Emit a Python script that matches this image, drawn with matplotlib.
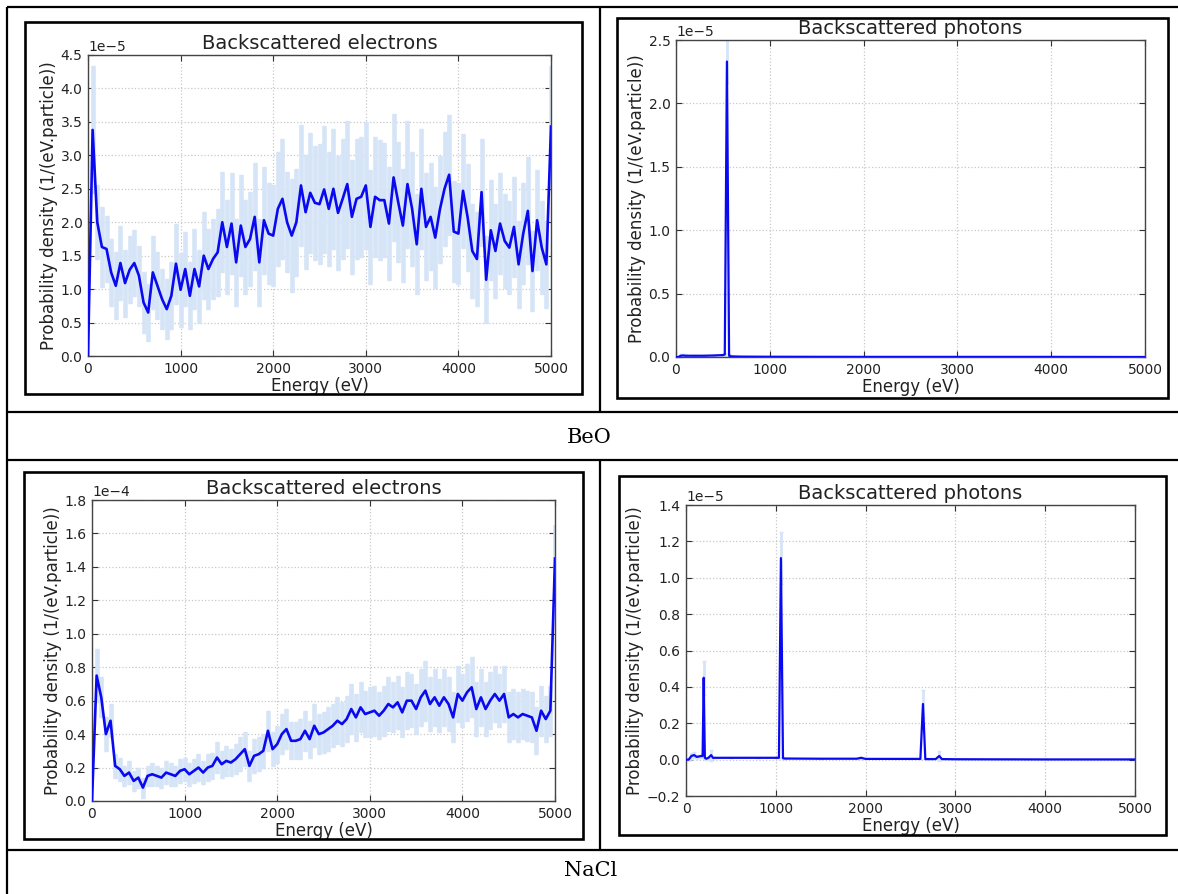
import numpy as np
import matplotlib
matplotlib.use("Agg")
import matplotlib.pyplot as plt
from matplotlib.lines import Line2D
from matplotlib.patches import Rectangle

W, H = 1178, 894

# ---------------- data ----------------
energy_grid = np.arange(0, 5001, 50)  # eV bins

# BeO backscattered electrons (units 1e-5)
beo_electrons = [
    0.0, 3.38, 2.0, 1.63, 1.6, 1.25, 1.05, 1.39, 1.09, 1.29,
    1.39, 1.2, 0.8, 0.65, 1.25, 1.05, 0.85, 0.7, 0.9, 1.38,
    0.99, 1.3, 0.9, 1.3, 1.04, 1.5, 1.3, 1.45, 1.55, 2.0,
    1.63, 1.98, 1.4, 1.95, 1.63, 1.75, 2.08, 1.4, 2.03, 1.83,
    1.8, 2.2, 2.35, 2.0, 1.8, 2.0, 2.55, 2.15, 2.44, 2.29,
    2.27, 2.49, 2.2, 2.5, 2.14, 2.35, 2.57, 2.08, 2.35, 2.38,
    2.55, 1.93, 2.38, 2.33, 2.33, 1.98, 2.67, 2.3, 1.95, 2.57,
    2.2, 1.67, 2.5, 1.93, 2.08, 1.77, 2.19, 2.5, 2.71, 1.86,
    1.83, 2.47, 2.07, 1.57, 1.45, 2.45, 1.14, 1.88, 1.57, 1.98,
    1.72, 1.62, 1.93, 1.37, 1.83, 2.17, 1.27, 2.03, 1.62, 1.37,
    3.43,
]
beo_electrons_err = [
    0.0, 0.95, 0.55, 0.6, 0.5, 0.5, 0.5, 0.55, 0.5, 0.5,
    0.5, 0.45, 0.45, 0.42, 0.55, 0.5, 0.45, 0.45, 0.5, 0.6,
    0.55, 0.55, 0.5, 0.6, 0.55, 0.65, 0.6, 0.6, 0.65, 0.75,
    0.7, 0.75, 0.65, 0.75, 0.7, 0.7, 0.8, 0.65, 0.8, 0.75,
    0.75, 0.85, 0.9, 0.75, 0.85, 0.8, 0.9, 0.85, 0.9, 0.85,
    0.9, 0.95, 0.85, 0.9, 0.85, 0.9, 0.95, 0.85, 0.9, 0.9,
    0.95, 0.85, 0.9, 0.9, 0.85, 0.85, 0.95, 0.9, 0.85, 0.95,
    0.85, 0.75, 0.9, 0.8, 0.8, 0.75, 0.8, 0.85, 0.9, 0.75,
    0.75, 0.85, 0.8, 0.7, 0.7, 0.8, 0.65, 0.75, 0.7, 0.75,
    0.7, 0.7, 0.75, 0.65, 0.75, 0.8, 0.6, 0.75, 0.7, 0.65,
    0.9,
]

# BeO backscattered photons (units 1e-5)
beo_photon_energy = [0, 25, 50, 75, 100, 200, 300, 400, 500, 520, 543, 566, 590, 700, 1000, 2000, 3000, 4000, 5000]
beo_photons = [0.0, 0.0, 0.01, 0.012, 0.01, 0.01, 0.01, 0.012, 0.015, 0.02, 2.33, 0.01, 0.005, 0.003, 0.002, 0.001, 0.001, 0.001, 0.0]
beo_photons_err = [0.0, 0.0, 0.01, 0.01, 0.01, 0.005, 0.005, 0.005, 0.005, 0.01, 0.17, 0.01, 0.005, 0.0, 0.0, 0.0, 0.0, 0.0, 0.0]

# NaCl backscattered electrons (units 1e-4)
nacl_electrons = [
    0.0, 0.75, 0.62, 0.4, 0.48, 0.21, 0.19, 0.15, 0.17, 0.12,
    0.14, 0.08, 0.15, 0.16, 0.15, 0.14, 0.17, 0.16, 0.15, 0.18,
    0.19, 0.16, 0.18, 0.2, 0.17, 0.2, 0.21, 0.26, 0.22, 0.24,
    0.23, 0.25, 0.28, 0.31, 0.21, 0.27, 0.28, 0.3, 0.42, 0.31,
    0.34, 0.4, 0.43, 0.36, 0.36, 0.37, 0.42, 0.37, 0.45, 0.4,
    0.41, 0.43, 0.45, 0.48, 0.46, 0.49, 0.55, 0.5, 0.56, 0.52,
    0.53, 0.54, 0.51, 0.54, 0.58, 0.56, 0.59, 0.53, 0.6, 0.6,
    0.55, 0.62, 0.66, 0.58, 0.62, 0.57, 0.62, 0.58, 0.5, 0.64,
    0.6, 0.65, 0.68, 0.55, 0.62, 0.55, 0.6, 0.64, 0.6, 0.64,
    0.5, 0.52, 0.5, 0.52, 0.51, 0.5, 0.42, 0.54, 0.49, 0.54,
    1.45,
]
nacl_electrons_err = [
    0.0, 0.16, 0.12, 0.1, 0.1, 0.07, 0.07, 0.06, 0.07, 0.06,
    0.06, 0.06, 0.06, 0.07, 0.06, 0.06, 0.07, 0.07, 0.06, 0.07,
    0.07, 0.07, 0.07, 0.08, 0.07, 0.08, 0.08, 0.09, 0.08, 0.09,
    0.08, 0.09, 0.1, 0.1, 0.09, 0.1, 0.1, 0.1, 0.12, 0.1,
    0.11, 0.12, 0.12, 0.11, 0.11, 0.12, 0.12, 0.11, 0.13, 0.12,
    0.12, 0.13, 0.13, 0.14, 0.13, 0.14, 0.15, 0.14, 0.15, 0.14,
    0.15, 0.15, 0.14, 0.15, 0.16, 0.15, 0.16, 0.15, 0.17, 0.16,
    0.15, 0.17, 0.18, 0.16, 0.17, 0.16, 0.17, 0.16, 0.15, 0.17,
    0.16, 0.17, 0.18, 0.16, 0.17, 0.16, 0.17, 0.17, 0.16, 0.17,
    0.15, 0.15, 0.15, 0.15, 0.15, 0.15, 0.14, 0.15, 0.14, 0.15,
    0.2,
]

# NaCl backscattered photons (units 1e-5)
nacl_photon_energy = [0, 30, 60, 90, 120, 150, 175, 185, 197, 210, 225, 250, 280, 300, 350, 500, 800,
                      1000, 1035, 1057, 1080, 1100, 1500, 1900, 1950, 2000, 2500, 2610, 2639, 2665,
                      2700, 2780, 2820, 2850, 3000, 4000, 5000]
nacl_photons = [0.0, 0.0, 0.02, 0.025, 0.015, 0.018, 0.02, 0.02, 0.45, 0.01, 0.005, 0.01, 0.025, 0.01, 0.01, 0.01, 0.01,
                0.01, 0.01, 1.108, 0.008, 0.006, 0.005, 0.005, 0.01, 0.004, 0.004, 0.004, 0.306, 0.003,
                0.003, 0.003, 0.02, 0.003, 0.002, 0.001, 0.001]
nacl_photons_err = [0.0, 0.0, 0.015, 0.015, 0.01, 0.01, 0.01, 0.01, 0.095, 0.005, 0.005, 0.005, 0.03, 0.005, 0.0, 0.0, 0.0,
                    0.0, 0.0, 0.145, 0.005, 0.0, 0.0, 0.0, 0.005, 0.0, 0.0, 0.0, 0.075, 0.0,
                    0.0, 0.0, 0.025, 0.0, 0.0, 0.0, 0.0]

# ---------------- styling ----------------
LINE_C = "#0a0af0"
ERR_C = "#d6e4f7"
TEXT_C = "#222222"

plt.rcParams["font.family"] = ["DejaVu Sans"]

fig = plt.figure(figsize=(W / 100, H / 100), dpi=100)
fig.patch.set_facecolor("white")


def px_rect(l, t, r, b):
    return [l / W, 1 - b / H, (r - l) / W, (b - t) / H]


def fig_line(x0, y0, x1, y1, lw=1.6):
    fig.add_artist(Line2D([x0 / W, x1 / W], [1 - y0 / H, 1 - y1 / H],
                          transform=fig.transFigure, color="black", lw=lw,
                          solid_capstyle="butt"))


def panel_box(l, t, r, b):
    fig.add_artist(Rectangle((l / W, 1 - b / H), (r - l) / W, (b - t) / H,
                             transform=fig.transFigure, fill=False, ec="black", lw=1.9))


# table grid lines
fig_line(7, 7, W, 7)
fig_line(7, 7, 7, H)
fig_line(600, 7, 600, 412)
fig_line(600, 460, 600, 850)
fig_line(7, 412, W, 412)
fig_line(7, 460, W, 460)
fig_line(7, 850, W, 850)

fig.text(589 / W, 1 - 437 / H, "BeO", ha="center", va="center",
         family="DejaVu Serif", fontsize=15, color="black")
fig.text(591 / W, 1 - 871 / H, "NaCl", ha="center", va="center",
         family="DejaVu Serif", fontsize=15, color="black")

# panel frames
panel_box(25, 22, 582, 394)
panel_box(617, 18, 1168, 398)
panel_box(24, 472, 583, 839)
panel_box(619, 476, 1166, 835)


def style_axes(ax, title, ylim, yticks, scale):
    ax.set_xlim(0, 5000)
    ax.set_ylim(ylim[0] * scale, ylim[1] * scale)
    ax.set_xticks([0, 1000, 2000, 3000, 4000, 5000])
    ax.set_yticks([v * scale for v in yticks])
    ax.ticklabel_format(axis="y", style="sci", scilimits=(0, 0), useMathText=False)
    ax.grid(True, color="#c8c8c8", linestyle=":", linewidth=0.9)
    ax.set_axisbelow(True)
    ax.tick_params(direction="in", top=True, right=True, length=4, width=0.8,
                   labelsize=10, colors="#333333", labelcolor=TEXT_C, pad=4)
    for s in ax.spines.values():
        s.set_color("#444444")
        s.set_linewidth(1.0)
    ax.set_title(title, fontsize=14, color=TEXT_C, pad=4)
    ax.set_xlabel("Energy (eV)", fontsize=12, color=TEXT_C, labelpad=1)
    ax.set_ylabel("Probability density (1/(eV.particle))", fontsize=12, color=TEXT_C, labelpad=2)
    ax.yaxis.get_offset_text().set_fontsize(10)
    ax.yaxis.get_offset_text().set_color(TEXT_C)


def draw(ax, x, y, err, scale, lw, elw):
    y = np.asarray(y) * scale
    e = np.asarray(err) * scale
    ax.errorbar(x, y, yerr=e, fmt="none", ecolor=ERR_C, elinewidth=elw,
                capsize=1.5, capthick=1.0, zorder=2)
    ax.plot(x, y, color=LINE_C, lw=lw, zorder=3)


# BeO electrons
ax1 = fig.add_axes(px_rect(88, 55, 551, 356))
draw(ax1, energy_grid, beo_electrons, beo_electrons_err, 1e-5, 1.9, 3.3)
style_axes(ax1, "Backscattered electrons", (0, 4.5), np.arange(0, 4.51, 0.5), 1e-5)

# BeO photons
ax2 = fig.add_axes(px_rect(676, 40, 1145, 357))
draw(ax2, beo_photon_energy, beo_photons, beo_photons_err, 1e-5, 1.6, 2.0)
style_axes(ax2, "Backscattered photons", (0, 2.5), np.arange(0, 2.51, 0.5), 1e-5)

# NaCl electrons
ax3 = fig.add_axes(px_rect(92, 500, 555, 801))
draw(ax3, energy_grid, nacl_electrons, nacl_electrons_err, 1e-4, 1.9, 3.3)
style_axes(ax3, "Backscattered electrons", (0, 1.8), np.arange(0, 1.81, 0.2), 1e-4)

# NaCl photons
ax4 = fig.add_axes(px_rect(686, 505, 1135, 796))
draw(ax4, nacl_photon_energy, nacl_photons, nacl_photons_err, 1e-5, 1.6, 2.0)
style_axes(ax4, "Backscattered photons", (-0.2, 1.4), np.arange(-0.2, 1.41, 0.2), 1e-5)

fig.savefig("out.png", dpi=100, facecolor="white")
